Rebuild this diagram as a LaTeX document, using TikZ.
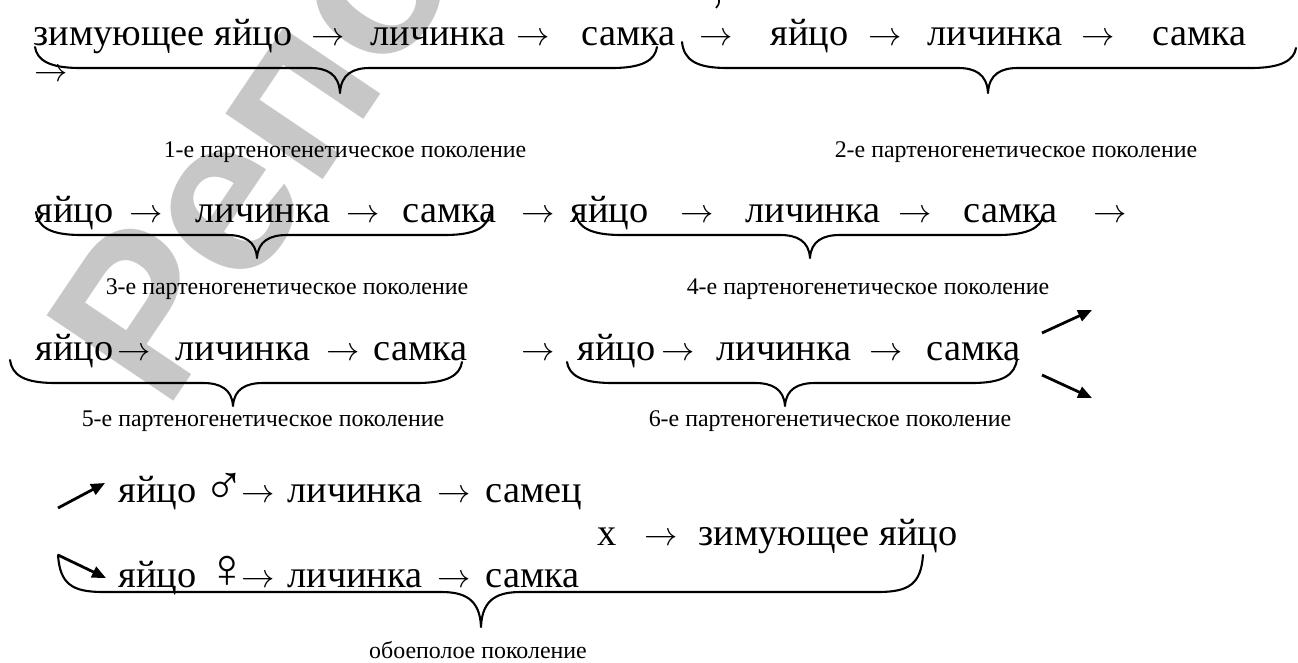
\documentclass[tikz,border=0pt]{standalone}
\usepackage{fontspec}
\setmainfont{Liberation Serif}
\newfontfamily\wmfont{Liberation Sans}
\usetikzlibrary{arrows.meta}

\tikzset{
  word/.style={font=\fontsize{13.8}{16}\selectfont, inner sep=0pt, anchor=base west},
  arr/.style={font=\fontsize{12.5}{14}\selectfont, inner sep=0pt, anchor=base west},
  sex/.style={font=\fontsize{20}{22}\selectfont, inner sep=0pt, anchor=base west},
  lbl/.style={font=\fontsize{8.6}{10}\selectfont, inner sep=0pt, anchor=base},
  brc/.style={line width=0.75pt, line cap=round, line join=round},
  darr/.style={line width=1pt, -{Triangle[length=5pt,width=4.2pt]}},
  wm/.style={font=\wmfont\bfseries\fontsize{80}{84}\selectfont, text=black!22, inner sep=0pt}
}

% under-brace: left end, right end, level of the bar, tip, half width of the tip
\newcommand\bracepath[8]{%
  \draw[brc] (#1,#2) .. controls (#1+2,#5-8) and (#1+14,#5) .. (#1+45,#5)
    -- (#6-#8,#5) .. controls (#6-#8/2+2,#5) and (#6-1,#5+6) .. (#6,#7)
    .. controls (#6+1,#5+6) and (#6+#8/2-2,#5) .. (#6+#8,#5)
    -- (#3-45,#5) .. controls (#3-14,#5) and (#3-2,#5-8) .. (#3,#4);}
\newcommand\ra{$\rightarrow$}

\begin{document}
\begin{tikzpicture}[x=0.36pt, y=-0.36pt]
\useasboundingbox (0,0) rectangle (1298,663);

% background stamp
\begin{scope}
  \clip (0,0) rectangle (1298,663);
  \node[wm, rotate=56, anchor=base west] (stamp) at (165,414) {Репозиторий};
\end{scope}
\draw[line width=0.6pt] (719,0) .. controls (719,4) .. (716,8);

% first row
\node[word] (a1) at (33,45) {зимующее яйцо};
\node[arr] (a2) at (311,45) {\ra};
\node[word] (a3) at (370,45) {личинка};
\node[arr] (a4) at (516,45) {\ra};
\node[word] (a5) at (581,45) {самка};
\node[arr] (a6) at (699,45) {\ra};
\node[word] (a7) at (770,45) {яйцо};
\node[arr] (a8) at (868,45) {\ra};
\node[word] (a9) at (927,45) {личинка};
\node[arr] (a10) at (1081,45) {\ra};
\node[word] (a11) at (1152,45) {самка};
\node[arr] (a12) at (34,81) {\ra};
\bracepath{35}{47}{657}{47}{68}{340}{93}{30}
\bracepath{682}{42}{1296}{48}{68}{988}{93}{30}
\node[lbl] (g1) at (345,157) {1-е партеногенетическое поколение};
\node[lbl] (g2) at (1016,157) {2-е партеногенетическое поколение};

% second row
\node[word] (b1) at (35,222) {яйцо};
\node[arr] (b2) at (129,222) {\ra};
\node[word] (b3) at (195,222) {личинка};
\node[arr] (b4) at (346,222) {\ra};
\node[word] (b5) at (402,222) {самка};
\node[arr] (b6) at (521,222) {\ra};
\node[word] (b7) at (570,222) {яйцо};
\node[arr] (b8) at (680,222) {\ra};
\node[word] (b9) at (745,222) {личинка};
\node[arr] (b10) at (898,222) {\ra};
\node[word] (b11) at (963,222) {самка};
\node[arr] (b12) at (1093,222) {\ra};
\bracepath{36}{212}{490}{212}{235}{257}{258}{30}
\bracepath{576}{214}{1043}{216}{235}{810}{258}{30}
\node[lbl] (g3) at (287,294) {3-е партеногенетическое поколение};
\node[lbl] (g4) at (868,294) {4-е партеногенетическое поколение};

% third row
\node[word] (c1) at (35,360) {яйцо};
\node[arr] (c2) at (117,360) {\ra};
\node[word] (c3) at (175,360) {личинка};
\node[arr] (c4) at (326,360) {\ra};
\node[word] (c5) at (373,360) {самка};
\node[arr] (c6) at (521,360) {\ra};
\node[word] (c7) at (577,360) {яйцо};
\node[arr] (c8) at (661,360) {\ra};
\node[word] (c9) at (716,360) {личинка};
\node[arr] (c10) at (869,360) {\ra};
\node[word] (c11) at (926,360) {самка};
\bracepath{10}{360}{462}{362}{383}{233}{406}{30}
\bracepath{567}{362}{1017}{359}{383}{785}{406}{30}
\node[lbl] (g5) at (263,426) {5-е партеногенетическое поколение};
\node[lbl] (g6) at (830,426) {6-е партеногенетическое поколение};

% fork after the sixth generation
\coordinate (up0) at (1042,333);
\coordinate (up1) at (1092,310);
\coordinate (dn0) at (1042,375);
\coordinate (dn1) at (1092,398);
\draw[darr] (up0) -- (up1);
\draw[darr] (dn0) -- (dn1);

% bisexual generation
\coordinate (m0) at (58,508);
\coordinate (m1) at (105,483);
\coordinate (f0) at (58,555);
\coordinate (f1) at (106,578);
\draw[darr] (m0) -- (m1);
\node[word] (e1) at (118,502) {яйцо};
\node[sex] (e2) at (203,504) {♂};
\node[arr] (e3) at (241,502) {\ra};
\node[word] (e4) at (287,502) {личинка};
\node[arr] (e5) at (437,502) {\ra};
\node[word] (e6) at (485,502) {самец};

\node[word] (x1) at (597,545) {х};
\node[arr] (x2) at (644,545) {\ra};
\node[word] (x3) at (698,545) {зимующее яйцо};

\draw[darr] (f0) -- (f1);
\node[word] (h1) at (118,587) {яйцо};
\node[sex] (h2) at (206,587) {♀};
\node[arr] (h3) at (241,587) {\ra};
\node[word] (h4) at (287,587) {личинка};
\node[arr] (h5) at (437,587) {\ra};
\node[word] (h6) at (485,587) {самка};
\bracepath{58}{555}{923}{555}{592}{481}{627}{40}
\node[lbl] (g7) at (478,658) {обоеполое поколение};
\end{tikzpicture}
\end{document}
